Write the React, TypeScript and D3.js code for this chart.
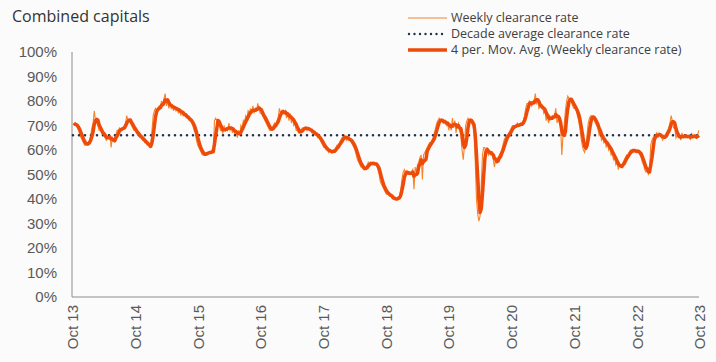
import React from "react";
import * as d3 from "d3";

// weekly clearance rate (%), one block per Oct-to-Oct year
const weekly2013 = [
  71, 70, 70, 69, 68, 66, 65, 64, 63, 62, 62, 63, 63, 64, 66, 69, 71, 76, 72, 71,
  70, 68, 68, 67, 66, 66, 65, 64, 65, 66, 66, 61, 65, 64, 65, 66, 68, 68, 69, 68,
  69, 69, 70, 71, 74, 72, 72, 71, 70, 69, 68, 68,
];
const weekly2014 = [
  67, 66, 66, 65, 65, 64, 64, 63, 63, 62, 62, 61, 61, 68, 74, 76, 77, 76, 77, 78,
  78, 80, 78, 81, 83, 78, 80, 77, 79, 77, 78, 76, 78, 76, 77, 75, 77, 74, 76, 74,
  74, 74, 73, 73, 72, 72, 71, 70, 68, 67, 64, 62,
];
const weekly2015 = [
  61, 60, 59, 58, 58, 58, 59, 59, 59, 59, 59, 60, 59, 72, 73, 72, 71, 70, 68, 68,
  67, 70, 68, 69, 68, 71, 68, 69, 67, 69, 66, 68, 65, 68, 66, 70, 69, 72, 71, 74,
  73, 76, 75, 77, 75, 78, 75, 77, 76, 79, 77, 75,
];
const weekly2016 = [
  75, 74, 73, 72, 71, 70, 69, 68, 68, 69, 70, 71, 70, 72, 73, 77, 75, 76, 75, 75,
  76, 73, 75, 72, 75, 71, 73, 70, 71, 68, 68, 67, 67, 68, 69, 69, 69, 69, 68, 69,
  68, 68, 67, 67, 67, 66, 66, 65, 65, 64, 63, 62,
];
const weekly2017 = [
  61, 61, 60, 60, 59, 60, 59, 59, 60, 60, 61, 62, 62, 63, 64, 65, 65, 66, 65, 64,
  65, 64, 64, 63, 62, 61, 60, 58, 56, 55, 54, 53, 53, 52, 52, 53, 54, 55, 54, 55,
  54, 55, 54, 54, 54, 52, 50, 47, 46, 45, 44, 43,
];
const weekly2018 = [
  42, 42, 42, 41, 41, 40, 40, 40, 40, 40, 41, 41, 44, 48, 51, 52, 50, 51, 50, 51,
  50, 51, 52, 44, 53, 51, 54, 55, 57, 58, 48, 58, 59, 60, 61, 62, 63, 63, 64, 65,
  67, 69, 71, 72, 73, 72, 72, 71, 71, 72, 70, 71,
];
const weekly2019 = [
  68, 71, 68, 73, 69, 72, 67, 70, 71, 68, 66, 60, 56, 62, 70, 72, 73, 72, 72, 71,
  70, 68, 55, 40, 34, 31, 33, 46, 58, 61, 61, 58, 61, 58, 59, 58, 59, 56, 53, 57,
  55, 57, 58, 59, 60, 62, 64, 65, 66, 66, 67, 68,
];
const weekly2020 = [
  69, 70, 70, 69, 70, 71, 70, 70, 71, 71, 72, 74, 77, 79, 79, 80, 79, 78, 80, 80,
  83, 79, 80, 77, 78, 77, 78, 75, 76, 72, 74, 71, 74, 73, 74, 73, 74, 77, 71, 73,
  71, 70, 58, 66, 70, 76, 80, 82, 81, 80, 80, 78,
];
const weekly2021 = [
  77, 77, 76, 74, 72, 69, 65, 62, 60, 59, 62, 66, 71, 73, 74, 74, 73, 72, 71, 70,
  69, 66, 67, 64, 65, 63, 64, 61, 63, 60, 61, 58, 59, 56, 57, 54, 55, 52, 54, 53,
  54, 55, 56, 57, 58, 58, 59, 60, 60, 60, 59, 60,
];
const weekly2022 = [
  59, 60, 59, 58, 57, 55, 54, 52, 51, 52, 50, 51, 62, 64, 65, 66, 66, 67, 65, 67,
  66, 65, 64, 66, 66, 67, 68, 69, 71, 74,
  72, 69, 69, 65, 66, 65, 66, 64, 67, 65, 66, 65, 66, 65, 66, 64, 67, 65, 66, 65,
  65, 66, 68,
];

const weeklyRate = [
  ...weekly2013, ...weekly2014, ...weekly2015, ...weekly2016, ...weekly2017,
  ...weekly2018, ...weekly2019, ...weekly2020, ...weekly2021, ...weekly2022,
];

const firstWeek = new Date(2013, 9, 6);
const decadeAverage = 66;
const yTicks = [0, 10, 20, 30, 40, 50, 60, 70, 80, 90, 100];
const xTickYears = [2013, 2014, 2015, 2016, 2017, 2018, 2019, 2020, 2021, 2022, 2023];
const legendLabels = [
  "Weekly clearance rate",
  "Decade average clearance rate",
  "4 per. Mov. Avg. (Weekly clearance rate)",
];

const W = 716;
const H = 362;
const left = 72, right = 700, top = 52, bottom = 297;

const weeklyColor = "#f5842a";
const avgColor = "#ee4a0a";
const dotColor = "#243447";
const axisFont = "'Liberation Sans', Arial, sans-serif";
const textFont = "'Open Sans', 'Noto Sans', sans-serif";

export default function App() {
  const x = d3.scaleTime()
    .domain([new Date(2013, 9, 1), new Date(2023, 9, 1)])
    .range([left + 1, right]);
  const y = d3.scaleLinear().domain([0, 100]).range([bottom, top]);

  const weekly = weeklyRate.map((v, i) => ({ date: d3.timeWeek.offset(firstWeek, i), v }));
  // 4 period moving average (trailing)
  const movAvg = weekly.map((d, i) => ({
    date: d.date,
    v: d3.mean(weeklyRate.slice(Math.max(0, i - 3), i + 1)) as number,
  }));

  const line = d3.line<{ date: Date; v: number }>()
    .x((d) => x(d.date))
    .y((d) => y(d.v));

  const fmt = d3.timeFormat("%b %y");

  return (
    <svg width={W} height={H} style={{ position: "absolute", left: 0, top: 0 }}>
      <rect width={W} height={H} fill="#fbfbfb" />
      <text x={12} y={22} fontFamily={textFont} fontSize={16} fill="#333">
        Combined capitals
      </text>

      {/* y axis labels */}
      {yTicks.map((t) => (
        <text key={t} x={57} y={y(t)} dy="0.35em" textAnchor="end"
          fontFamily={axisFont} fontSize={15} fill="#595959">
          {t + "%"}
        </text>
      ))}
      {/* x axis labels */}
      {xTickYears.map((yr) => {
        const d = new Date(yr, 9, 1);
        return (
          <text key={yr} transform={`translate(${x(d)},${bottom + 8}) rotate(-90)`}
            textAnchor="end" dy="0.35em" fontFamily={axisFont} fontSize={15} fill="#595959">
            {fmt(d)}
          </text>
        );
      })}

      <line x1={left} x2={left} y1={top} y2={bottom} stroke="#8c8c8c" strokeWidth={1} />
      <line x1={left} x2={right - 1} y1={bottom} y2={bottom} stroke="#8c8c8c" strokeWidth={1} />

      <path d={line(weekly) ?? ""} fill="none" stroke={weeklyColor} strokeWidth={1.1} />
      <line x1={left + 1} x2={right} y1={y(decadeAverage)} y2={y(decadeAverage)}
        stroke={dotColor} strokeWidth={2.6} strokeDasharray="0 6" strokeLinecap="round" />
      <path d={line(movAvg) ?? ""} fill="none" stroke={avgColor} strokeWidth={3.5}
        strokeLinejoin="round" />

      {/* legend */}
      <g fontFamily={textFont} fontSize={12.5} fill="#404040">
        <line x1={408} x2={447} y1={18} y2={18} stroke={weeklyColor} strokeWidth={1.2} />
        <text x={451} y={18} dy="0.35em">{legendLabels[0]}</text>
        <line x1={409} x2={447} y1={34} y2={34} stroke={dotColor} strokeWidth={2.4}
          strokeDasharray="0 5.5" strokeLinecap="round" />
        <text x={451} y={34} dy="0.35em">{legendLabels[1]}</text>
        <line x1={408} x2={447} y1={50} y2={50} stroke={avgColor} strokeWidth={3.5} />
        <text x={451} y={50} dy="0.35em">{legendLabels[2]}</text>
      </g>
    </svg>
  );
}
